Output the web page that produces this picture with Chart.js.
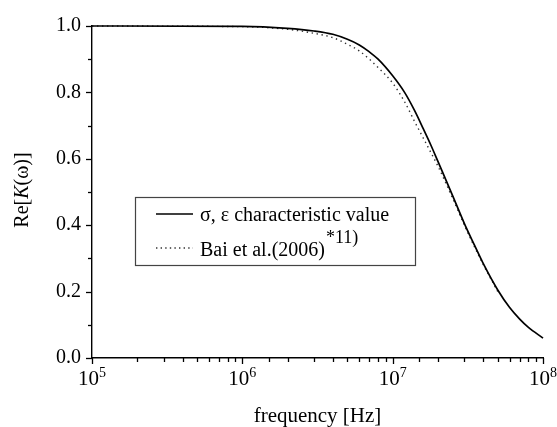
<!DOCTYPE html>
<html>
<head>
<meta charset="utf-8">
<script src="https://cdn.jsdelivr.net/npm/chart.js@4.4.0/dist/chart.umd.min.js"></script>
<style>
	body { margin: 0; background: #fff; }
	canvas { display: block; }
</style>
</head>
<body>
<canvas id="grafico" width="557" height="427"></canvas>
<script>
// dati (frequenza in Hz)
var freq = [1e5, 1e6, 2e6, 3e6, 4e6, 5e6, 6e6, 7e6, 8e6, 1e7, 1.2e7, 1.4e7, 1.6e7, 1.8e7, 2e7, 2.5e7, 3e7, 3.5e7, 4e7, 5e7, 6e7, 7e7, 8e7, 1e8];
var reK_sigma = [1.000, 0.999, 0.993, 0.985, 0.975, 0.960, 0.943, 0.922, 0.900, 0.850, 0.800, 0.745, 0.690, 0.640, 0.592, 0.490, 0.405, 0.340, 0.285, 0.205, 0.152, 0.117, 0.092, 0.060];

var freq_bai = [1e5, 1e6, 2e6, 3e6, 4e6, 5e6, 6e6, 7e6, 8e6, 1e7, 1.2e7, 1.4e7, 1.6e7, 1.8e7, 2e7, 2.5e7, 3e7, 3.5e7, 4e7, 5e7];
var reK_bai = [1.000, 0.998, 0.990, 0.978, 0.965, 0.945, 0.925, 0.900, 0.875, 0.828, 0.772, 0.712, 0.662, 0.618, 0.578, 0.482, 0.400, 0.335, 0.282, 0.200];

var xTickLabels = [1e5, 1e6, 1e7, 1e8];
var legendLabels = ['σ, ε characteristic value', 'Bai et al.(2006)'];
var legendSup = '*11)';

var FONT = '"Liberation Serif", "Times New Roman", serif';

function punti(xs, ys) {
	var out = [];
	for (var i = 0; i < xs.length; i++) out.push({x: xs[i], y: ys[i]});
	return out;
}

// disegno tacche, etichette asse x con esponente, titoli e legenda
var decorazioni = {
	id: 'decorazioni',
	afterDraw: function(chart) {
		var ctx = chart.ctx;
		var area = chart.chartArea;
		var sx = chart.scales.x;
		var sy = chart.scales.y;
		ctx.save();
		ctx.strokeStyle = '#000';
		ctx.lineWidth = 1.3;

		// tacche asse y
		sy.ticks.forEach(function(t) {
			var py = Math.round(sy.getPixelForValue(t.value)) + 0.5;
			var major = Math.round(t.value * 10) % 2 == 0;
			var len = major ? 6 : 4;
			ctx.beginPath();
			ctx.moveTo(area.left, py);
			ctx.lineTo(area.left - len, py);
			ctx.stroke();
		});

		// tacche asse x (logaritmico)
		sx.ticks.forEach(function(t) {
			if (t.value < 1e5 || t.value > 1e8) return;
			var px = Math.round(sx.getPixelForValue(t.value)) + 0.5;
			var e = Math.log10(t.value);
			var major = Math.abs(e - Math.round(e)) < 1e-6;
			var len = major ? 6 : 4;
			ctx.beginPath();
			ctx.moveTo(px, area.bottom);
			ctx.lineTo(px, area.bottom + len);
			ctx.stroke();
		});

		// etichette 10^n
		ctx.fillStyle = '#000';
		ctx.textBaseline = 'alphabetic';
		xTickLabels.forEach(function(v) {
			var px = sx.getPixelForValue(v);
			var esp = String(Math.round(Math.log10(v)));
			ctx.font = '21px ' + FONT;
			var w1 = ctx.measureText('10').width;
			ctx.font = '14px ' + FONT;
			var w2 = ctx.measureText(esp).width;
			var x0 = px - (w1 + w2) / 2;
			ctx.font = '21px ' + FONT;
			ctx.textAlign = 'left';
			ctx.fillText('10', x0, 385);
			ctx.font = '14px ' + FONT;
			ctx.fillText(esp, x0 + w1, 377);
		});

		// titolo asse x
		ctx.font = '21px ' + FONT;
		ctx.textAlign = 'center';
		ctx.textBaseline = 'alphabetic';
		ctx.fillText('frequency [Hz]', (area.left + area.right) / 2, 422);

		// titolo asse y: Re[K(ω)] con K corsivo
		ctx.save();
		ctx.translate(28, 190);
		ctx.rotate(-Math.PI / 2);
		var parti = [['Re[', ''], ['K', 'italic '], ['(ω)]', '']];
		var tot = 0;
		parti.forEach(function(p) { ctx.font = p[1] + '20px ' + FONT; tot += ctx.measureText(p[0]).width; });
		var cx = -tot / 2;
		ctx.textAlign = 'left';
		ctx.textBaseline = 'alphabetic';
		parti.forEach(function(p) {
			ctx.font = p[1] + '20px ' + FONT;
			ctx.fillText(p[0], cx, 0);
			cx += ctx.measureText(p[0]).width;
		});
		ctx.restore();

		// legenda
		ctx.strokeStyle = '#444';
		ctx.lineWidth = 1.2;
		ctx.strokeRect(135.5, 197.5, 280, 68);

		ctx.strokeStyle = '#000';
		ctx.lineWidth = 1.6;
		ctx.beginPath();
		ctx.moveTo(156, 214);
		ctx.lineTo(193, 214);
		ctx.stroke();

		ctx.strokeStyle = '#333';
		ctx.lineWidth = 1.4;
		ctx.setLineDash([1.4, 3.2]);
		ctx.beginPath();
		ctx.moveTo(156, 248);
		ctx.lineTo(193, 248);
		ctx.stroke();
		ctx.setLineDash([]);

		ctx.fillStyle = '#000';
		ctx.textAlign = 'left';
		ctx.textBaseline = 'alphabetic';
		ctx.font = '20px ' + FONT;
		ctx.fillText(legendLabels[0], 200, 221);
		ctx.fillText(legendLabels[1], 200, 256);
		var wb = ctx.measureText(legendLabels[1]).width;
		ctx.font = '18px ' + FONT;
		ctx.fillText(legendSup, 200 + wb + 1, 243);

		ctx.restore();
	}
};

var config_grafico = {
	type: 'line',
	data: {
		datasets: [
			{
				label: legendLabels[0],
				data: punti(freq, reK_sigma),
				borderColor: '#000',
				borderWidth: 1.7,
				pointRadius: 0,
				cubicInterpolationMode: 'monotone',
				clip: 6
			},
			{
				label: legendLabels[1],
				data: punti(freq_bai, reK_bai),
				borderColor: '#333',
				borderWidth: 1.4,
				borderDash: [1.4, 3.6],
				pointRadius: 0,
				cubicInterpolationMode: 'monotone',
				clip: 6
			}
		]
	},
	options: {
		responsive: false,
		animation: false,
		layout: { padding: { top: 26, right: 14, left: 0, bottom: 0 } },
		plugins: { legend: { display: false }, tooltip: { enabled: false } },
		scales: {
			x: {
				type: 'logarithmic',
				min: 1e5,
				max: 1e8,
				grid: { display: false, drawTicks: false, tickLength: 0 },
				border: { display: true, color: '#000', width: 1.4 },
				ticks: { display: false, autoSkip: false },
				afterFit: function(scale) { scale.height = 69; }
			},
			y: {
				min: 0,
				max: 1,
				grid: { display: false, drawTicks: false, tickLength: 0 },
				border: { display: true, color: '#000', width: 1.4 },
				ticks: {
					stepSize: 0.1,
					autoSkip: false,
					padding: 11,
					color: '#000',
					font: { family: FONT, size: 20 },
					callback: function(v) {
						var n = Math.round(v * 10);
						return n % 2 == 0 ? (n / 10).toFixed(1) : '';
					}
				},
				afterFit: function(scale) { scale.width = 92; }
			}
		}
	},
	plugins: [decorazioni]
};

var grafico = new Chart(document.getElementById('grafico').getContext('2d'), config_grafico);
</script>
</body>
</html>
